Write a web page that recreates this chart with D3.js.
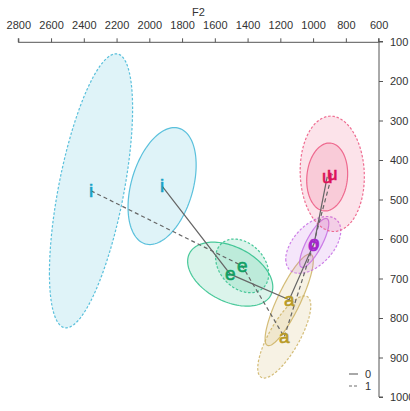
<!DOCTYPE html>
<html><head><meta charset="utf-8">
<script src="https://cdn.jsdelivr.net/npm/d3@7"></script>
<style>html,body{margin:0;padding:0;background:#fff;overflow:hidden}</style>
</head><body>
<svg id="c" width="410" height="411"></svg>
<script>
// ---- data ----
const vowels = ["i","e","a","o","u"];
const groups = ["0","1"];
// means per group, in vowel order
const f2Mean0 = [1922, 1506, 1146, 993, 914];
const f1Mean0 = [466, 689, 754, 610, 443];
const f2Mean1 = [2356, 1433, 1176, 999, 883];
const f1Mean1 = [478, 668, 848, 615, 435];
// ellipse spreads (F2, F1) and F1~F2 correlation
const f2Sd0 = [208, 260, 147, 89, 125];
const f1Sd0 = [148, 81, 116, 62, 86];
const corr0 = [0.36, -0.4, 0.85, 0.8, 0.1];
const f2Sd1 = [254, 162, 162, 168, 196];
const f1Sd1 = [347, 68, 104, 72, 146];
const corr1 = [0.6, -0.3, 0.76, 0.5, -0.05];
const f2Ticks = [2800,2600,2400,2200,2000,1800,1600,1400,1200,1000,800,600];
const f1Ticks = [100,200,300,400,500,600,700,800,900,1000];

const vowelColor = {i:"#3fb6d6", e:"#2cc08a", a:"#cdb261", o:"#c46be4", u:"#ec5680"};
const labelColor = {i:"#1b9fc6", e:"#0f9f63", a:"#b89a25", o:"#a424cc", u:"#dc1158"};

const svg = d3.select("#c");
const x = d3.scaleLinear().domain([2800,600]).range([18.3,378.6]);
const y = d3.scaleLinear().domain([100,1000]).range([41.5,397]);

function rows(g){
  const m2 = g==="0"?f2Mean0:f2Mean1, m1 = g==="0"?f1Mean0:f1Mean1;
  const s2 = g==="0"?f2Sd0:f2Sd1, s1 = g==="0"?f1Sd0:f1Sd1, r = g==="0"?corr0:corr1;
  return vowels.map((v,i)=>({v, g, f2:m2[i], f1:m1[i], s2:s2[i], s1:s1[i], r:r[i]}));
}
const data = groups.flatMap(rows);

function ellipsePts(d){
  const pts=[]; const q=Math.sqrt(1-d.r*d.r);
  for(let k=0;k<=120;k++){
    const t=k/120*2*Math.PI;
    pts.push([x(d.f2 + d.s2*Math.cos(t)), y(d.f1 + d.s1*(d.r*Math.cos(t)+q*Math.sin(t)))]);
  }
  return pts;
}
const line = d3.line();

// ellipses
svg.append("g").selectAll("path").data(data).join("path")
  .attr("d", d=>line(ellipsePts(d))+"Z")
  .attr("fill", d=>vowelColor[d.v]).attr("fill-opacity",0.17)
  .attr("stroke", d=>vowelColor[d.v]).attr("stroke-opacity",0.85)
  .attr("stroke-width",1.2)
  .attr("stroke-dasharray", d=>d.g==="1"?"2.5,1.8":null);

// connecting lines
groups.forEach(g=>{
  const r = rows(g);
  svg.append("path")
    .attr("d", line(r.map(d=>[x(d.f2),y(d.f1)])))
    .attr("fill","none").attr("stroke","#666").attr("stroke-width",1.2)
    .attr("stroke-dasharray", g==="1"?"4,3":null);
});

// labels
svg.append("g").selectAll("text").data(data).join("text")
  .attr("x", d=>x(d.f2)).attr("y", d=>y(d.f1)).attr("dy","0.3em")
  .attr("text-anchor","middle")
  .attr("font-family","Liberation Sans, Arial, sans-serif").attr("font-size",19)
  .attr("fill", d=>labelColor[d.v])
  .attr("stroke", d=>labelColor[d.v]).attr("stroke-width",0.6)
  .text(d=>d.v);

// top axis
const axT = svg.append("g").attr("transform","translate(0,42.3)")
  .call(d3.axisTop(x).tickValues(f2Ticks).tickSize(4).tickPadding(9).tickFormat(d3.format("d")));
axT.select(".domain").attr("d", `M${x(2800)},-4V0H${x(600)}V-4`);
axT.selectAll("line,path").attr("stroke","#555");
axT.selectAll("text").attr("font-family","Liberation Sans, Arial, sans-serif").attr("font-size",11).attr("fill","#333");
svg.append("text").attr("x",(x(2800)+x(600))/2).attr("y",16).attr("text-anchor","middle")
  .attr("font-family","Liberation Sans, Arial, sans-serif").attr("font-size",11).attr("fill","#333").text("F2");

// right axis
const axR = svg.append("g").attr("transform","translate(379,0)")
  .call(d3.axisRight(y).tickValues(f1Ticks).tickSize(4).tickPadding(7).tickFormat(d3.format("d")));
axR.select(".domain").attr("d", `M4,${y(100)}H0V${y(1000)}H4`);
axR.selectAll("line,path").attr("stroke","#555");
axR.selectAll("text").attr("font-family","Liberation Sans, Arial, sans-serif").attr("font-size",11).attr("fill","#333");

// legend
const lg = svg.append("g");
groups.forEach((g,i)=>{
  const yy = 374 + i*12;
  lg.append("line").attr("x1",349).attr("x2",358).attr("y1",yy).attr("y2",yy)
    .attr("stroke","#6f6f6f").attr("stroke-width",1.2).attr("stroke-dasharray", g==="1"?"3,2":null);
  lg.append("text").attr("x",368).attr("y",yy).attr("dy","0.35em").attr("text-anchor","middle")
    .attr("font-family","Liberation Sans, Arial, sans-serif").attr("font-size",11).attr("fill","#333").text(g);
});
</script>
</body></html>
